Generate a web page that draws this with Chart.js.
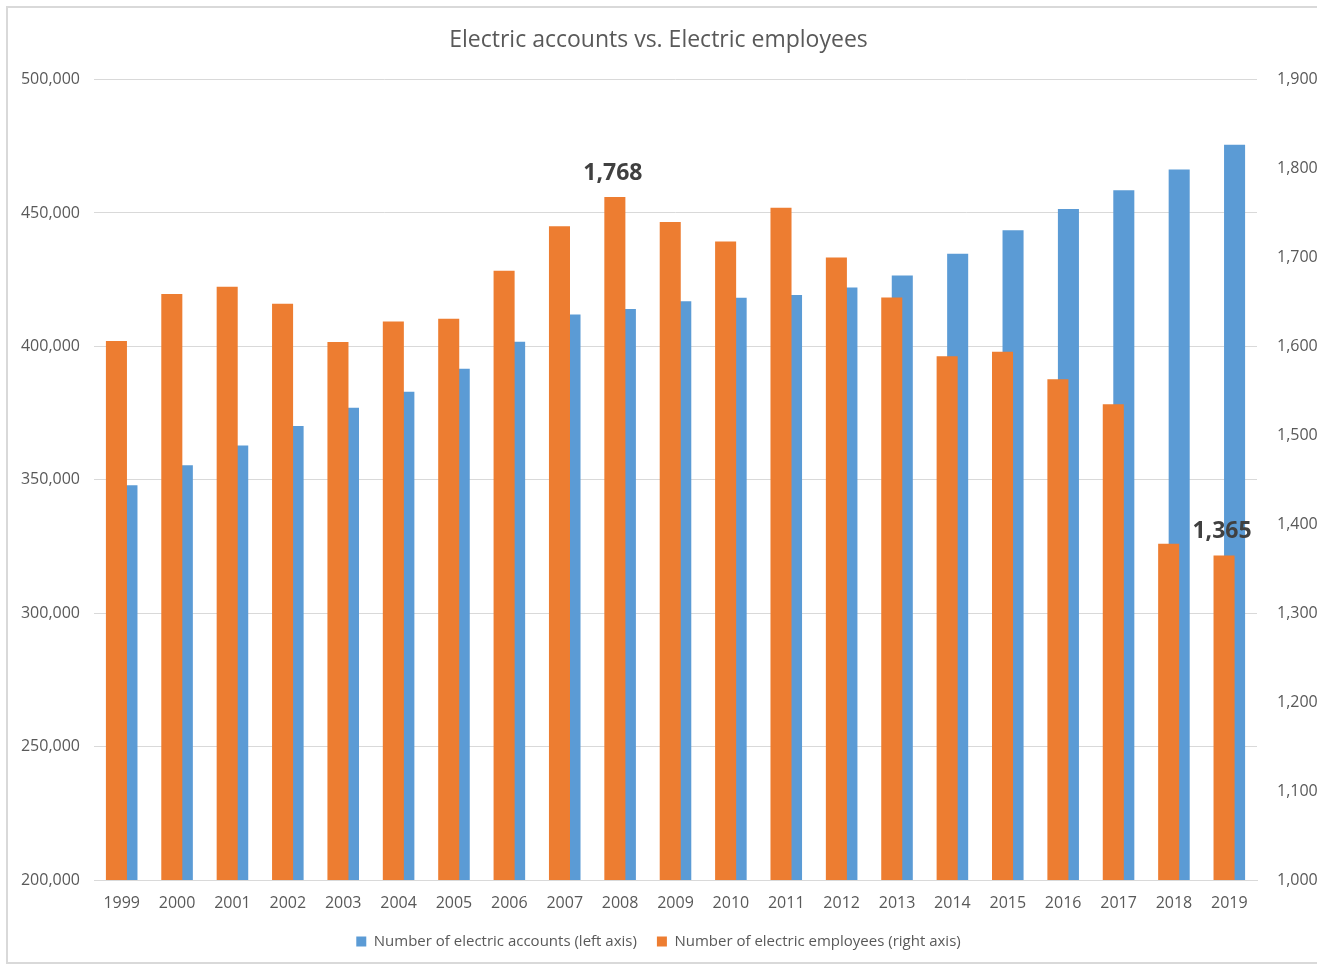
<!DOCTYPE html>
<html lang="en">
<head>
    <meta charset="UTF-8">
    <title>Electric accounts vs. Electric employees</title>
    <style>
        body { margin: 0; background: #fff; }
        #wrap { width: 1317px; height: 964px; }
    </style>
    <script src="https://cdn.jsdelivr.net/npm/chart.js"></script>
</head>
<body>
<div id="wrap"><canvas id="barChart"></canvas></div>
<script>
    // Chart data
    const years = ['1999', '2000', '2001', '2002', '2003', '2004', '2005', '2006', '2007', '2008', '2009',
        '2010', '2011', '2012', '2013', '2014', '2015', '2016', '2017', '2018', '2019'];
    const accounts = [348000, 355500, 362900, 370200, 377000, 383000, 391600, 401750, 412000, 414000, 416900,
        418250, 419250, 422100, 426600, 434750, 443500, 451500, 458500, 466300, 475600];
    const employees = [1606, 1659, 1667, 1648, 1605, 1628, 1631, 1685, 1735, 1768, 1740,
        1718, 1756, 1700, 1655, 1589, 1594, 1563, 1535, 1378, 1365];
    // years whose employee bar gets a value label
    const labelledYears = ['2008', '2019'];

    const grey = '#595959';
    const gridGrey = '#d9d9d9';
    const fontFamily = '"Open Sans", "Noto Sans", sans-serif';

    // white background, outer frame and the two bold value labels
    const decorPlugin = {
        id: 'decor',
        beforeDraw(chart) {
            const ctx = chart.ctx;
            ctx.save();
            ctx.fillStyle = '#fff';
            ctx.fillRect(0, 0, chart.width, chart.height);
            ctx.strokeStyle = gridGrey;
            ctx.lineWidth = 2;
            ctx.strokeRect(7, 7, chart.width + 20, chart.height - 8);
            ctx.restore();
        },
        afterDatasetsDraw(chart) {
            const ctx = chart.ctx;
            const meta = chart.getDatasetMeta(0);
            ctx.save();
            ctx.font = 'bold 23px ' + fontFamily;
            ctx.fillStyle = '#404040';
            ctx.textAlign = 'center';
            ctx.textBaseline = 'middle';
            labelledYears.forEach(year => {
                const i = years.indexOf(year);
                const bar = meta.data[i];
                ctx.fillText(employees[i].toLocaleString('en-US'), bar.x - 2, bar.y - 24);
            });
            ctx.restore();
        }
    };

    const ctx = document.getElementById('barChart').getContext('2d');
    const chart = new Chart(ctx, {
        type: 'bar',
        data: {
            labels: years,
            datasets: [
                {
                    label: 'Number of electric employees (right axis)',
                    data: employees,
                    backgroundColor: '#ED7D31',
                    yAxisID: 'y1'
                },
                {
                    label: 'Number of electric accounts (left axis)',
                    data: accounts,
                    backgroundColor: '#5B9BD5',
                    yAxisID: 'y'
                }
            ]
        },
        options: {
            responsive: true,
            maintainAspectRatio: false,
            animation: false,
            categoryPercentage: 0.38,
            barPercentage: 2.0,
            layout: { padding: { bottom: 5 } },
            plugins: {
                title: {
                    display: true,
                    text: 'Electric accounts vs. Electric employees',
                    color: grey,
                    font: { family: fontFamily, size: 23, weight: 'normal' },
                    padding: { top: 27, bottom: 25 }
                },
                legend: {
                    position: 'bottom',
                    labels: {
                        boxWidth: 10,
                        boxHeight: 10,
                        padding: 20,
                        color: grey,
                        font: { family: fontFamily, size: 15 },
                        sort: (a, b) => b.datasetIndex - a.datasetIndex
                    }
                },
                tooltip: { enabled: false }
            },
            scales: {
                x: {
                    grid: { display: false },
                    border: { color: gridGrey },
                    ticks: { color: grey, padding: 6, font: { family: fontFamily, size: 16 } },
                    afterFit: scale => { scale.height = 34; }
                },
                y: {
                    position: 'left',
                    min: 200000,
                    max: 500000,
                    ticks: { stepSize: 50000, color: grey, padding: 14, font: { family: fontFamily, size: 16 } },
                    grid: { color: gridGrey, drawTicks: false },
                    border: { display: false },
                    afterFit: scale => { scale.width = 94; }
                },
                y1: {
                    position: 'right',
                    min: 1000,
                    max: 1900,
                    ticks: { stepSize: 100, color: grey, padding: 20, font: { family: fontFamily, size: 16 } },
                    grid: { display: false, drawTicks: false },
                    border: { display: false },
                    afterFit: scale => { scale.width = 60; }
                }
            }
        },
        plugins: [decorPlugin]
    });
</script>
</body>
</html>
